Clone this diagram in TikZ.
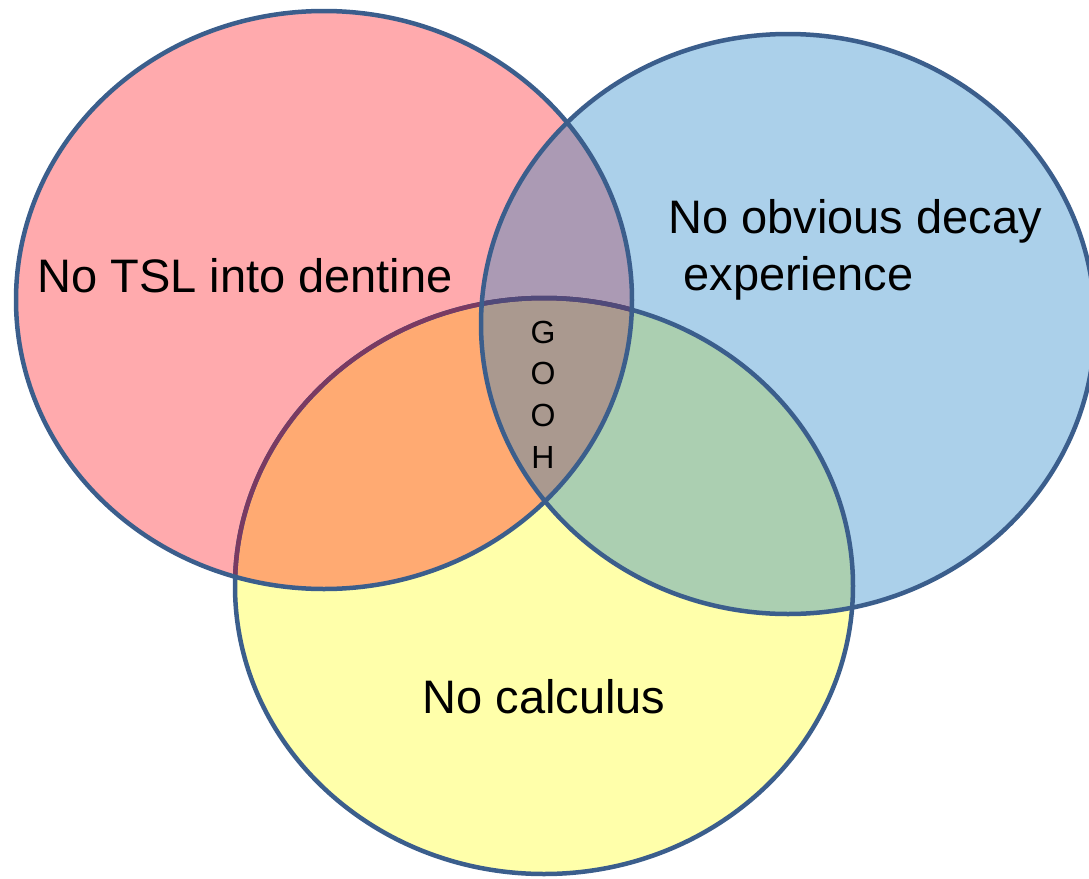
\documentclass[tikz,border=0pt]{standalone}
\usepackage{fontspec}
\setmainfont{Liberation Sans}
\usepackage{xcolor}
\definecolor{vred}{RGB}{255,170,173}
\definecolor{vblue}{RGB}{171,208,234}
\definecolor{vyel}{RGB}{255,255,170}
\definecolor{vpurple}{RGB}{171,154,180}
\definecolor{vorange}{RGB}{255,170,114}
\definecolor{vgreen}{RGB}{171,207,177}
\definecolor{vgrey}{RGB}{170,153,143}
\definecolor{vline}{RGB}{59,94,140}
\definecolor{vmaroon}{RGB}{122,58,98}
\definecolor{vdark}{RGB}{80,74,122}

\begin{document}
\begin{tikzpicture}[x=0.5pt,y=-0.5pt,
  rim/.style={draw=vline,line width=2.25pt},
  lbl/.style={font=\fontsize{23.5}{28.5}\selectfont,inner sep=0pt}]
\useasboundingbox (0,0) rectangle (1089,879);
\def\redE{(324,300) ellipse [x radius=308,y radius=289]}
\def\blueE{(788,324) ellipse [x radius=307,y radius=290]}
\def\yelE{(544,586) ellipse [x radius=309,y radius=288]}
\fill[vred] \redE;
\fill[vblue] \blueE;
\fill[vyel] \yelE;
\begin{scope}\clip \redE; \fill[vpurple] \blueE; \fill[vorange] \yelE;\end{scope}
\begin{scope}\clip \blueE; \fill[vgreen] \yelE; \clip \redE; \fill[vgrey] \yelE;\end{scope}
\draw[rim] \yelE;
\begin{scope}\clip \redE; \draw[rim,draw=vmaroon] \yelE; \clip \blueE; \draw[rim,draw=vdark] \yelE;\end{scope}
\draw[rim] \redE;
\draw[rim] \blueE;
\node[lbl,anchor=base] (tsl) at (245,292) {No TSL into dentine};
\node[lbl,anchor=base west,align=left] (decay) at (668,290) {No obvious decay\\\hspace{7.5pt}experience};
\node[lbl,anchor=base] (calc) at (544,713) {No calculus};
\node[font=\fontsize{16}{20.8}\selectfont,align=center,anchor=base,inner sep=0pt] (gooh) at (543,468) {G\\O\\O\\H};
\end{tikzpicture}
\end{document}
